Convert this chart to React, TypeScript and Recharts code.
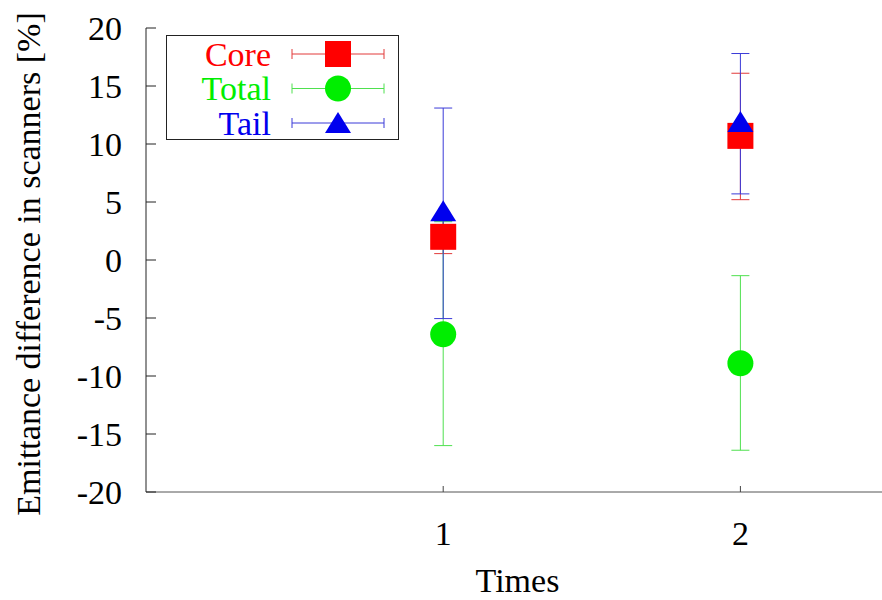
import React from 'react';
import { ScatterChart, Scatter, XAxis, YAxis, ErrorBar } from 'recharts';

const times = [1, 2];
const xTicks = [1, 2];
const yTicks = [-20, -15, -10, -5, 0, 5, 10, 15, 20];

// value, lower end and upper end of each error bar
const coreValues = [2.0, 10.7];
const coreLow = [0.55, 5.2];
const coreHigh = [3.4, 16.1];

const totalValues = [-6.4, -8.9];
const totalLow = [-16.0, -16.4];
const totalHigh = [3.3, -1.35];

const tailValues = [4.2, 11.9];
const tailLow = [-5.05, 5.7];
const tailHigh = [13.1, 17.8];

const FONT = 'Liberation Serif, DejaVu Serif, Times New Roman, serif';
const FS = 34;

const build = (vals: number[], low: number[], high: number[]) =>
  times.map((t, i) => ({ x: t, y: vals[i], err: [vals[i] - low[i], high[i] - vals[i]] }));

const coreData = build(coreValues, coreLow, coreHigh);
const totalData = build(totalValues, totalLow, totalHigh);
const tailData = build(tailValues, tailLow, tailHigh);

const series = [
  { name: 'Core', color: '#ff0000', errColor: '#e23a3a', shape: 'square' },
  { name: 'Total', color: '#00ee00', errColor: '#4fe04f', shape: 'circle' },
  { name: 'Tail', color: '#0000ee', errColor: '#3a3ad8', shape: 'triangle' },
];

const txt = { fontFamily: FONT, fontSize: FS };

const Marker = ({ cx, cy, kind, color }: any) => {
  if (kind === 'square') return <rect x={cx - 13} y={cy - 13} width={26} height={26} fill={color} />;
  if (kind === 'circle') return <circle cx={cx} cy={cy} r={13} fill={color} />;
  return <polygon points={`${cx},${cy - 11} ${cx - 13},${cy + 10} ${cx + 13},${cy + 10}`} fill={color} />;
};

const LeftTick = ({ x, y, payload }: any) => (
  <g>
    <line x1={x} x2={x + 10} y1={y} y2={y} stroke="#222" />
    <text x={x - 24} y={y} dy="0.35em" textAnchor="end" style={txt} fill="#000">
      {payload.value}
    </text>
  </g>
);

const RightTick = ({ x, y }: any) => <line x1={x - 10} x2={x} y1={y} y2={y} stroke="#888" />;

const BottomTick = ({ x, y, payload }: any) => (
  <g>
    <line x1={x} x2={x} y1={y - 6} y2={y} stroke="#444" />
    <text x={x} y={y + 41} dy="0.35em" textAnchor="middle" style={txt} fill="#000">
      {payload.value}
    </text>
  </g>
);

const TopTick = ({ x, y }: any) => <line x1={x} x2={x} y1={y} y2={y + 8} stroke="#444" />;

const Legend = () => (
  <div
    style={{
      position: 'absolute',
      left: 166,
      top: 35,
      width: 231,
      height: 103,
      border: '1px solid #222',
      background: '#fff',
    }}
  >
    <svg width={231} height={103} style={{ display: 'block', overflow: 'visible' }}>
      {series.map((s, i) => {
        const cy = 18 + i * 34.5;
        return (
          <g key={s.name}>
            <text x={104} y={cy} dy="0.35em" textAnchor="end" style={txt} fill={s.color}>
              {s.name}
            </text>
            <line x1={125} x2={217} y1={cy} y2={cy} stroke={s.errColor} />
            <line x1={125} x2={125} y1={cy - 5} y2={cy + 5} stroke={s.errColor} />
            <line x1={217} x2={217} y1={cy - 5} y2={cy + 5} stroke={s.errColor} />
            <Marker cx={171} cy={cy} kind={s.shape} color={s.color} />
          </g>
        );
      })}
    </svg>
  </div>
);

export default function App() {
  const datasets = [coreData, totalData, tailData];
  return (
    <div style={{ position: 'absolute', left: 0, top: 0, width: 882, height: 600, overflow: 'hidden', background: '#fff' }}>
      <ScatterChart width={900} height={600} margin={{ top: 28, right: 11, bottom: 0, left: 0 }}>
        <XAxis
          dataKey="x"
          type="number"
          domain={[0, 2.5]}
          ticks={xTicks}
          height={108}
          tickSize={0}
          tickMargin={0}
          tickLine={false}
          tick={<BottomTick />}
          axisLine={{ stroke: '#555' }}
          allowDataOverflow
          label={{
            content: ({ viewBox }: any) => (
              <text
                x={viewBox.x + viewBox.width / 2}
                y={viewBox.y + 88}
                dy="0.35em"
                textAnchor="middle"
                style={txt}
                fill="#000"
              >
                Times
              </text>
            ),
          }}
        />
        <XAxis
          xAxisId="top"
          orientation="top"
          type="number"
          domain={[0, 2.5]}
          ticks={xTicks}
          height={0}
          tickSize={0}
          tickMargin={0}
          tickLine={false}
          tick={<TopTick />}
          axisLine={{ stroke: '#111' }}
          allowDataOverflow
        />
        <YAxis
          dataKey="y"
          type="number"
          domain={[-20, 20]}
          ticks={yTicks}
          width={146}
          tickSize={0}
          tickMargin={0}
          tickLine={false}
          tick={<LeftTick />}
          axisLine={{ stroke: '#222' }}
          allowDataOverflow
          label={{
            content: ({ viewBox }: any) => {
              const lx = viewBox.x + 28;
              const ly = viewBox.y + viewBox.height / 2 + 4;
              return (
                <text
                  x={lx}
                  y={ly}
                  dy="0.35em"
                  textAnchor="middle"
                  transform={`rotate(-90, ${lx}, ${ly})`}
                  style={txt}
                  fill="#000"
                >
                  Emittance difference in scanners [%]
                </text>
              );
            },
          }}
        />
        <YAxis
          yAxisId="right"
          orientation="right"
          type="number"
          domain={[-20, 20]}
          ticks={yTicks}
          width={0}
          tickSize={0}
          tickMargin={0}
          tickLine={false}
          tick={<RightTick />}
          axisLine={{ stroke: '#222' }}
          allowDataOverflow
        />
        {series.map((s, i) => (
          <Scatter
            key={s.name}
            name={s.name}
            data={datasets[i]}
            isAnimationActive={false}
            shape={(p: any) => <Marker cx={p.cx} cy={p.cy} kind={s.shape} color={s.color} />}
          >
            <ErrorBar dataKey="err" direction="y" width={9} stroke={s.errColor} strokeWidth={1} isAnimationActive={false} />
          </Scatter>
        ))}
      </ScatterChart>
      <Legend />
    </div>
  );
}
